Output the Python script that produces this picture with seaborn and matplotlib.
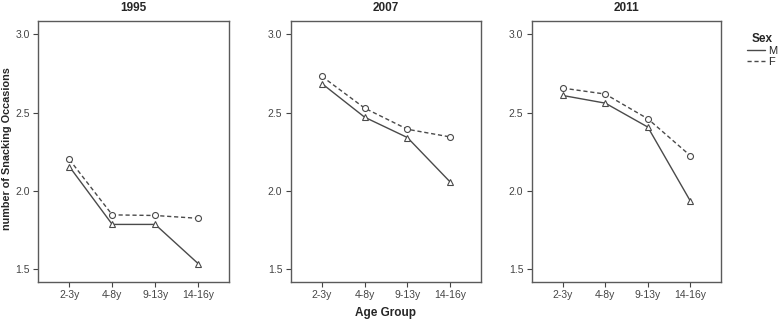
import pandas as pd
import matplotlib.pyplot as plt
import seaborn as sns
from matplotlib.lines import Line2D

# Mean number of snacking occasions by age group, sex and survey year
age_groups = ['2-3y', '4-8y', '9-13y', '14-16y']
years = ['1995', '2007', '2011']
male = {
    '1995': [2.155, 1.785, 1.785, 1.535],
    '2007': [2.685, 2.47, 2.34, 2.056],
    '2011': [2.609, 2.56, 2.407, 1.934],
}
female = {
    '1995': [2.2, 1.846, 1.842, 1.824],
    '2007': [2.731, 2.528, 2.393, 2.344],
    '2011': [2.656, 2.618, 2.46, 2.224],
}

rows = []
for yr in years:
    for i, age in enumerate(age_groups):
        rows.append({'year': yr, 'age': age, 'Sex': 'M', 'value': male[yr][i]})
        rows.append({'year': yr, 'age': age, 'Sex': 'F', 'value': female[yr][i]})
df = pd.DataFrame(rows)

sns.set_style('white')
plt.rcParams['font.family'] = ['Liberation Sans', 'DejaVu Sans']

line_col = '#4a4a4a'
frame_col = '#5a5a5a'
fig = plt.figure(figsize=(7.78, 3.22), dpi=100)
lefts = [38 / 778, 290.7 / 778, 531.7 / 778]
widths = [191 / 778, 190.3 / 778, 189.3 / 778]

for k, yr in enumerate(years):
    ax = fig.add_axes([lefts[k], 1 - 282 / 322, widths[k], 261 / 322])
    sub = df[df['year'] == yr]
    sns.lineplot(data=sub, x='age', y='value', style='Sex',
                 markers={'M': '^', 'F': 'o'},
                 dashes={'M': '', 'F': (3, 2)},
                 color=line_col, linewidth=1.0, markersize=4.3,
                 markerfacecolor='white', markeredgecolor=line_col,
                 markeredgewidth=0.8, ax=ax, legend=False)
    ax.set_xlim(-0.73, 3.72)
    ax.set_ylim(1.417, 3.085)
    ax.set_yticks([1.5, 2.0, 2.5, 3.0])
    ax.set_yticklabels(['1.5', '2.0', '2.5', '3.0'])
    ax.set_title(yr, fontsize=8.5, fontweight='bold', pad=7)
    ax.tick_params(axis='both', labelsize=7.5, colors='#444444', length=3.5,
                   width=0.8, direction='out', bottom=True, left=True, pad=2.5)
    for s in ax.spines.values():
        s.set_color(frame_col)
        s.set_linewidth(1.0)
    ax.set_xlabel('Age Group' if k == 1 else '', fontsize=8.5,
                  fontweight='bold')
    ax.xaxis.set_label_coords(0.496, -0.095)
    ax.set_ylabel('number of Snacking Occasions' if k == 0 else '',
                  fontsize=7.8, fontweight='bold')
    ax.yaxis.set_label_coords(-0.135, 0.51)

handles = [Line2D([], [], color=line_col, lw=1.0),
           Line2D([], [], color=line_col, lw=1.0, dashes=(3, 2))]
leg = fig.legend(handles, ['M', 'F'], title='Sex', loc='upper left',
                 bbox_to_anchor=(743 / 778, 1 - 29 / 322), frameon=False,
                 fontsize=8, handlelength=1.6, handletextpad=0.3,
                 labelspacing=0.05, borderaxespad=0)
leg.get_title().set_fontweight('bold')
leg.get_title().set_fontsize(8.5)

fig.savefig('out.png', dpi=100)
